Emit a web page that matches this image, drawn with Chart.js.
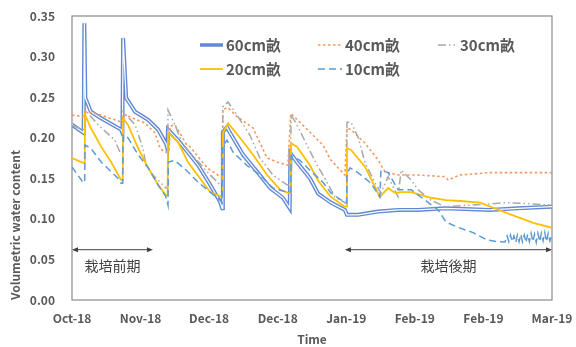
<!DOCTYPE html>
<html>
<head>
<meta charset="utf-8">
<script src="https://cdn.jsdelivr.net/npm/chart.js@4.4.1/dist/chart.umd.min.js"></script>
<style>
  html, body { margin: 0; padding: 0; background: #ffffff; }
  #wrap { width: 576px; height: 347px; }
</style>
</head>
<body>
<div id="wrap"><canvas id="chart" width="576" height="347"></canvas></div>
<script>
// Time axis: days since the start of the record, one label every 20 days
const timeLabels = ['Oct-18', 'Nov-18', 'Dec-18', 'Dec-18', 'Jan-19', 'Feb-19', 'Feb-19', 'Mar-19'];
const daysPerLabel = 20;

// Volumetric water content by depth: [day, value]
const vwc60 = [
  [0, 0.216], [3.4, 0.206], [3.6, 0.341], [3.9, 0.249], [5.5, 0.232], [8.5, 0.224],
  [14.3, 0.210], [14.7, 0.206], [14.9, 0.323], [15.8, 0.249], [18.4, 0.232], [22.2, 0.222],
  [25.1, 0.210], [27.4, 0.193], [27.8, 0.187], [28.0, 0.210], [30.9, 0.197], [33.8, 0.182],
  [36.8, 0.166], [40.3, 0.142], [43.2, 0.121], [43.8, 0.113], [44.0, 0.207], [45.2, 0.213],
  [46.1, 0.206], [49.9, 0.179], [54.0, 0.158], [57.8, 0.138], [61.5, 0.126], [63.5, 0.113],
  [63.7, 0.181], [65.6, 0.170], [69.4, 0.150], [71.8, 0.131], [75.5, 0.120], [79.6, 0.111],
  [80.2, 0.105], [83.4, 0.105], [89.3, 0.109], [95.1, 0.111], [100.9, 0.111], [108.8, 0.113],
  [121.9, 0.111], [130.0, 0.113], [140, 0.115]
];
const vwc40 = [
  [0, 0.228], [3.2, 0.226], [4.1, 0.232], [6.7, 0.230], [13.4, 0.221], [14.3, 0.219],
  [15.5, 0.228], [21.3, 0.218], [24.2, 0.206], [25.7, 0.187], [27.1, 0.182], [28.3, 0.183],
  [28.6, 0.214], [30.0, 0.216], [33.5, 0.191], [34.4, 0.189], [39.4, 0.163], [43.2, 0.152],
  [43.8, 0.152], [44.0, 0.235], [45.5, 0.237], [48.1, 0.226], [52.8, 0.212], [56.9, 0.175],
  [59.8, 0.170], [63.0, 0.166], [63.8, 0.230], [66.5, 0.219], [70.3, 0.203], [73.2, 0.191],
  [75.5, 0.1725], [79.6, 0.154], [80.2, 0.212], [81.4, 0.210], [85.5, 0.193], [89.3, 0.1725],
  [91.3, 0.158], [95.1, 0.154], [100.9, 0.154], [108.8, 0.152], [109.7, 0.148], [113.2, 0.154],
  [121.9, 0.157], [140, 0.157]
];
const vwc30 = [
  [0, 0.215], [3.2, 0.210], [3.7, 0.210], [3.9, 0.234], [7.6, 0.216], [12.5, 0.197],
  [14.0, 0.182], [14.8, 0.182], [14.9, 0.232], [18.4, 0.216], [20.7, 0.187], [21.6, 0.166],
  [23.6, 0.154], [27.4, 0.138], [27.9, 0.138], [28.0, 0.234], [30.0, 0.216], [32.4, 0.191],
  [35.9, 0.175], [39.4, 0.158], [43.2, 0.142], [43.8, 0.140], [44.0, 0.238], [45.5, 0.244],
  [48.1, 0.228], [51.9, 0.203], [54.8, 0.175], [58.6, 0.154], [62.7, 0.142], [63.7, 0.142],
  [63.9, 0.228], [65.6, 0.216], [68.5, 0.191], [71.5, 0.166], [73.2, 0.154], [76.7, 0.127],
  [79.6, 0.120], [80.1, 0.120], [80.2, 0.219], [81.4, 0.219], [83.4, 0.201], [85.5, 0.169],
  [88.4, 0.144], [90.1, 0.132], [92.2, 0.152], [95.1, 0.127], [96.0, 0.160], [98.9, 0.148],
  [100.9, 0.136], [104.7, 0.123], [108.8, 0.115], [117.0, 0.117], [126.9, 0.120], [140, 0.117]
];
const vwc20 = [
  [0, 0.175], [3.2, 0.169], [3.7, 0.169], [3.8, 0.228], [5.5, 0.212], [8.5, 0.189],
  [11.4, 0.170], [14.3, 0.148], [14.8, 0.148], [14.9, 0.224], [16.3, 0.216], [19.3, 0.187],
  [22.2, 0.163], [25.1, 0.142], [27.4, 0.129], [27.9, 0.129], [28.0, 0.206], [30.9, 0.195],
  [33.8, 0.170], [37.3, 0.150], [40.3, 0.133], [43.8, 0.127], [44.0, 0.205], [45.5, 0.218],
  [49.0, 0.200], [52.8, 0.179], [56.9, 0.154], [60.7, 0.136], [63.0, 0.132], [63.8, 0.132],
  [63.9, 0.193], [65.6, 0.189], [69.4, 0.166], [71.8, 0.147], [75.5, 0.127], [79.6, 0.115],
  [80.1, 0.115], [80.2, 0.187], [81.4, 0.185], [85.5, 0.164], [88.4, 0.139], [89.8, 0.127],
  [92.2, 0.138], [94.2, 0.132], [96.0, 0.133], [98.9, 0.133], [104.7, 0.126], [109.1, 0.123],
  [113.2, 0.122], [119.0, 0.120], [126.9, 0.107], [134.5, 0.095], [140, 0.089]
];
const vwc10 = [
  [0, 0.164], [3.2, 0.145], [3.7, 0.145], [3.8, 0.191], [5.5, 0.187], [8.5, 0.170],
  [13.4, 0.150], [14.3, 0.144], [14.8, 0.144], [14.9, 0.203], [16.3, 0.200], [19.3, 0.179],
  [22.2, 0.163], [25.1, 0.142], [27.4, 0.127], [28.0, 0.117], [28.1, 0.170], [30.0, 0.172],
  [33.8, 0.158], [36.8, 0.145], [40.3, 0.133], [43.2, 0.123], [43.8, 0.120], [44.0, 0.190],
  [45.2, 0.197], [47.0, 0.182], [51.0, 0.166], [54.8, 0.154], [58.6, 0.138], [62.7, 0.133],
  [63.7, 0.133], [63.9, 0.178], [66.5, 0.172], [69.4, 0.160], [73.2, 0.145], [75.5, 0.132],
  [79.6, 0.120], [80.1, 0.120], [80.2, 0.155], [81.1, 0.163], [83.4, 0.157], [87.2, 0.144],
  [89.8, 0.127], [90.1, 0.160], [92.2, 0.157], [95.1, 0.136], [98.9, 0.136], [103.0, 0.123],
  [106.8, 0.111], [109.1, 0.096], [112.3, 0.090], [117.0, 0.083], [121.0, 0.074], [124.0, 0.072],
  [126.3, 0.0715], [126.9, 0.079], [127.4, 0.072], [127.9, 0.080], [128.4, 0.072], [128.9, 0.079],
  [129.4, 0.071], [129.9, 0.080], [130.4, 0.072], [130.9, 0.081], [131.4, 0.072], [131.9, 0.080],
  [132.4, 0.071], [132.9, 0.081], [133.4, 0.072], [133.9, 0.082], [134.4, 0.072], [134.9, 0.081],
  [135.4, 0.071], [135.9, 0.082], [136.4, 0.072], [136.9, 0.082], [137.4, 0.073], [137.9, 0.083],
  [138.4, 0.072], [138.9, 0.082], [139.4, 0.073], [140, 0.080]
];

// Cultivation periods marked under the curves: [label, start day, end day]
const periods = [
  ['栽培前期', 0, 23.6],
  ['栽培後期', 79.6, 140]
];

const FONT = "'Noto Sans CJK JP', 'Noto Sans', sans-serif";
const TEXT = '#595959';

const toPoints = arr => arr.map(([x, y]) => ({ x, y }));

const series = [
  { label: '60cm畝', data: vwc60, color: '#6289d2', width: 4, dash: [], order: 10, double: true },
  { label: '40cm畝', data: vwc40, color: '#f39a62', width: 1.6, dash: [2.5, 2.5], order: 4 },
  { label: '30cm畝', data: vwc30, color: '#a8a8a8', width: 1.5, dash: [8, 3, 1.5, 3, 1.5, 3], order: 3 },
  { label: '20cm畝', data: vwc20, color: '#ffc000', width: 1.8, dash: [], order: 2 },
  { label: '10cm畝', data: vwc10, color: '#5b9bd5', width: 1.5, dash: [7, 4], order: 1 }
];

const datasets = [];
series.forEach(s => {
  datasets.push({
    label: s.label, data: toPoints(s.data), borderColor: s.color, borderWidth: s.width,
    borderDash: s.dash, order: s.order, pointRadius: 0, tension: 0, fill: false
  });
  if (s.double) {
    // white core turns the wide stroke into a double line
    datasets.push({
      label: s.label + ' core', data: toPoints(s.data), borderColor: '#ffffff', borderWidth: 1.2,
      order: s.order - 1, pointRadius: 0, tension: 0, fill: false
    });
  }
});

function drawSample(ctx, s, x1, x2, y) {
  ctx.save();
  ctx.strokeStyle = s.color;
  ctx.lineWidth = s.double ? 3.5 : s.width;
  ctx.setLineDash(s.dash);
  ctx.beginPath(); ctx.moveTo(x1, y); ctx.lineTo(x2, y); ctx.stroke();
  ctx.restore();
}

const decorations = {
  id: 'decorations',
  beforeDatasetsDraw(chart) {
    const { ctx, chartArea: a } = chart;
    ctx.save();
    ctx.strokeStyle = '#8a8a8a';
    ctx.lineWidth = 1.2;
    ctx.strokeRect(a.left, a.top, a.right - a.left, a.bottom - a.top);
    ctx.restore();
  },
  afterDatasetsDraw(chart) {
    const { ctx, scales: { x, y } } = chart;
    // period arrows
    ctx.save();
    const ay = y.getPixelForValue(0.062);
    const ty = y.getPixelForValue(0.042);
    ctx.strokeStyle = '#404040';
    ctx.fillStyle = '#404040';
    ctx.lineWidth = 1;
    periods.forEach(([label, from, to]) => {
      const x1 = x.getPixelForValue(from), x2 = x.getPixelForValue(to);
      ctx.beginPath(); ctx.moveTo(x1 + 2, ay); ctx.lineTo(x2 - 2, ay); ctx.stroke();
      ctx.beginPath(); ctx.moveTo(x1, ay); ctx.lineTo(x1 + 6, ay - 2.5); ctx.lineTo(x1 + 6, ay + 2.5); ctx.closePath(); ctx.fill();
      ctx.beginPath(); ctx.moveTo(x2, ay); ctx.lineTo(x2 - 6, ay - 2.5); ctx.lineTo(x2 - 6, ay + 2.5); ctx.closePath(); ctx.fill();
      ctx.font = `14px ${FONT}`;
      ctx.fillStyle = '#404040';
      ctx.textAlign = 'center';
      ctx.textBaseline = 'middle';
      ctx.fillText(label, (x1 + x2) / 2, ty);
    });
    ctx.restore();

    // legend, three columns by two rows
    const cols = [200, 318, 438];
    const rows = [45, 69];
    const sampleLen = [23, 24, 19];
    ctx.save();
    ctx.font = `bold 15px ${FONT}`;
    ctx.fillStyle = TEXT;
    ctx.textBaseline = 'middle';
    ctx.textAlign = 'left';
    series.forEach((s, i) => {
      const c = i % 3, r = Math.floor(i / 3);
      const lx = cols[c], ly = rows[r];
      drawSample(ctx, s, lx, lx + sampleLen[c], ly);
      ctx.fillText(s.label, lx + sampleLen[c] + 3, ly);
    });
    ctx.restore();
  }
};

Chart.defaults.font.family = FONT;
Chart.defaults.color = TEXT;

new Chart(document.getElementById('chart'), {
  type: 'line',
  data: { datasets },
  options: {
    responsive: false,
    animation: false,
    devicePixelRatio: 1,
    layout: { padding: { top: 16, right: 24, left: 0, bottom: 0 } },
    plugins: { legend: { display: false }, tooltip: { enabled: false } },
    scales: {
      x: {
        type: 'linear', min: 0, max: daysPerLabel * (timeLabels.length - 1),
        grid: { display: false, drawTicks: false },
        border: { display: false },
        ticks: {
          stepSize: daysPerLabel, autoSkip: false, maxRotation: 0, padding: 11,
          font: { size: 12, weight: 'bold' }, color: TEXT,
          callback: v => timeLabels[Math.round(v / daysPerLabel)] ?? ''
        },
        title: { display: true, text: 'Time', font: { size: 12, weight: 'bold' }, color: TEXT, padding: { top: 0, bottom: 0 } },
        afterFit: s => { s.height = 47; s.paddingLeft = 0; s.paddingRight = 0; }
      },
      y: {
        min: 0, max: 0.35,
        grid: { display: false, drawTicks: false },
        border: { display: false },
        ticks: {
          stepSize: 0.05, padding: 17,
          font: { size: 12, weight: 'bold' }, color: TEXT,
          callback: v => v.toFixed(2)
        },
        title: {
          display: true, text: 'Volumetric water content', align: 'start',
          font: { size: 12, weight: 'bold' }, color: TEXT, padding: { top: 8, bottom: 0 }
        },
        afterFit: s => { s.width = 72; s.paddingTop = 0; s.paddingBottom = 0; }
      }
    }
  },
  plugins: [decorations]
});
</script>
</body>
</html>
